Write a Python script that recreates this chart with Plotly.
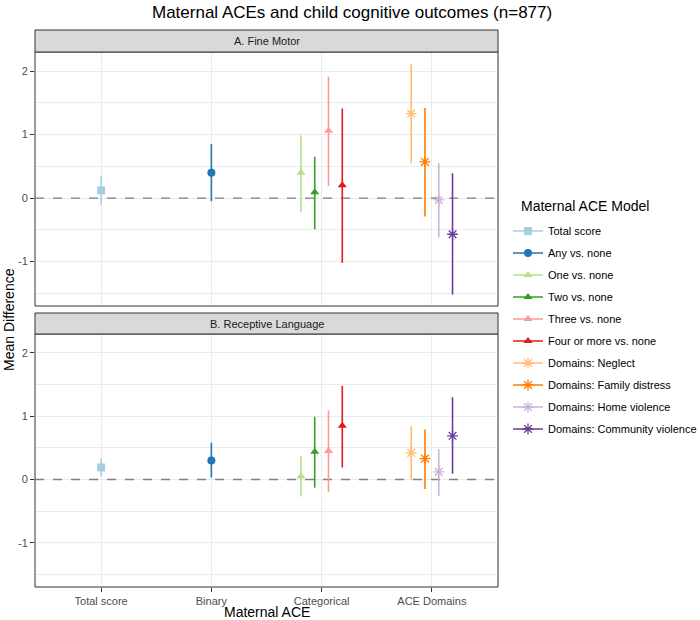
import plotly.graph_objects as go

# categories on the x axis and the models plotted within them
categories = ["Total score", "Binary", "Categorical", "ACE Domains"]
models = [
    "Total score", "Any vs. none", "One vs. none", "Two vs. none",
    "Three vs. none", "Four or more vs. none", "Domains: Neglect",
    "Domains: Family distress", "Domains: Home violence",
    "Domains: Community violence",
]
model_cat = [
    "Total score", "Binary", "Categorical", "Categorical", "Categorical",
    "Categorical", "ACE Domains", "ACE Domains", "ACE Domains", "ACE Domains",
]

# A. Fine Motor
fine_est = [0.12, 0.40, 0.40, 0.09, 1.06, 0.20, 1.33, 0.57, -0.03, -0.57]
fine_lo = [-0.11, -0.05, -0.22, -0.49, 0.19, -1.02, 0.55, -0.29, -0.62, -1.52]
fine_hi = [0.35, 0.85, 0.99, 0.65, 1.91, 1.41, 2.11, 1.42, 0.55, 0.39]

# B. Receptive Language
lang_est = [0.19, 0.30, 0.05, 0.44, 0.45, 0.85, 0.42, 0.33, 0.12, 0.69]
lang_lo = [0.05, 0.03, -0.27, -0.13, -0.20, 0.19, -0.01, -0.15, -0.26, 0.09]
lang_hi = [0.33, 0.58, 0.37, 0.99, 1.09, 1.48, 0.84, 0.79, 0.48, 1.30]

colors = ["#A6CEE3", "#1F78B4", "#B2DF8A", "#33A02C", "#FB9A99",
          "#E31A1C", "#FDBF6F", "#FF7F00", "#CAB2D6", "#6A3D9A"]
symbols = ["square", "circle", "triangle-up", "triangle-up", "triangle-up",
           "triangle-up", "asterisk-open", "asterisk-open", "asterisk-open",
           "asterisk-open"]

DODGE = 0.5
XRANGE = [-0.6, 3.6]
FONT = "Liberation Sans, Arial, sans-serif"


def dodge_x(i):
    cat = model_cat[i]
    members = [k for k, c in enumerate(model_cat) if c == cat]
    n = len(members)
    pos = members.index(i)
    return categories.index(cat) + (pos - (n - 1) / 2) * DODGE / n


fig = go.Figure()
panels = [("x2", "y2", fine_est, fine_lo, fine_hi, True),
          ("x", "y", lang_est, lang_lo, lang_hi, False)]
for xa, ya, est, lo, hi, show in panels:
    # dashed reference line at zero, under the estimates
    fig.add_trace(go.Scatter(
        x=XRANGE, y=[0, 0], xaxis=xa, yaxis=ya, mode="lines",
        line=dict(color="#7F7F7F", width=1.3, dash="dash"),
        showlegend=False, hoverinfo="skip",
    ))
    for i, name in enumerate(models):
        star = symbols[i].startswith("asterisk")
        fig.add_trace(go.Scatter(
            x=[dodge_x(i)], y=[est[i]], xaxis=xa, yaxis=ya,
            mode="lines+markers", name=name, legendgroup=name,
            showlegend=show,
            line=dict(color=colors[i], width=1.6),
            marker=dict(symbol=symbols[i], color=colors[i],
                        size=9 if star else 8,
                        line=dict(color=colors[i], width=1.3 if star else 0)),
            error_y=dict(type="data", symmetric=False,
                         array=[hi[i] - est[i]], arrayminus=[est[i] - lo[i]],
                         color=colors[i], thickness=1.6, width=0),
            hoverinfo="skip",
        ))

L, R, T, B = 35, 202, 30, 33
W, H = 700, 620
pw = W - L - R
ph = H - T - B


def py(pix):
    return (H - B - pix) / ph


def px(pix):
    return (pix - L) / pw


top_dom = [py(306), py(52)]
bot_dom = [py(587), py(334)]
yrange = [-1.7, 2.3]

axis_common = dict(range=XRANGE, tickvals=list(range(4)),
                   showgrid=True, gridcolor="#EBEBEB", gridwidth=1.1,
                   zeroline=False, showline=False, automargin=False)
yaxis_common = dict(range=yrange, tickvals=[-1, 0, 1, 2],
                    ticktext=["-1", "0", "1", "2"],
                    showgrid=True, gridcolor="#EBEBEB", gridwidth=1.1,
                    minor=dict(dtick=0.5, tick0=0, showgrid=True,
                               gridcolor="#EBEBEB", gridwidth=0.6),
                    zeroline=False, showline=False, automargin=False,
                    ticks="outside", ticklen=4, tickcolor="#333333",
                    tickfont=dict(family=FONT, size=11, color="#4D4D4D"))

fig.update_layout(
    width=W, height=H,
    margin=dict(l=L, r=R, t=T, b=B, autoexpand=False),
    paper_bgcolor="white", plot_bgcolor="white",
    font=dict(family=FONT, color="#1A1A1A"),
    title=dict(text="Maternal ACEs and child cognitive outcomes (n=877)",
               x=0.503, xanchor="center", xref="container",
               y=1 - 12 / H, yanchor="middle", yref="container",
               font=dict(family=FONT, size=17, color="black")),
    xaxis=dict(**axis_common, anchor="y", ticktext=categories,
               ticks="outside", ticklen=4, tickcolor="#333333",
               tickfont=dict(family=FONT, size=11, color="#4D4D4D")),
    xaxis2=dict(**axis_common, anchor="y2", matches="x",
                showticklabels=False, ticks=""),
    yaxis=dict(**yaxis_common, domain=bot_dom, anchor="x"),
    yaxis2=dict(**yaxis_common, domain=top_dom, anchor="x2"),
    legend=dict(
        font=dict(family=FONT, size=11, color="black"),
        x=px(508), xanchor="left",
        y=py(216.5), yanchor="top",
        itemwidth=30, tracegroupgap=3, bgcolor="rgba(0,0,0,0)",
    ),
)

# legend title
fig.add_annotation(text="Maternal ACE Model", xref="paper", yref="paper",
                   x=px(519), y=py(206), xanchor="left", yanchor="middle",
                   showarrow=False,
                   font=dict(family=FONT, size=14, color="black"))

# panel borders
for xa, ya in [("x", "y"), ("x2", "y2")]:
    fig.add_shape(type="rect", xref=f"{xa} domain", yref=f"{ya} domain",
                  x0=0, x1=1, y0=0, y1=1, layer="above",
                  line=dict(color="#333333", width=1))

# facet strips
strips = [("A. Fine Motor", py(52), py(30)),
          ("B. Receptive Language", py(334), py(313))]
for label, y0, y1 in strips:
    fig.add_shape(type="rect", xref="paper", yref="paper",
                  x0=0, x1=1, y0=y0, y1=y1, layer="above",
                  fillcolor="#D9D9D9", line=dict(color="#333333", width=1))
    fig.add_annotation(text=label, xref="paper", yref="paper",
                       x=0.5, y=(y0 + y1) / 2, xanchor="center",
                       yanchor="middle", showarrow=False,
                       font=dict(family=FONT, size=11, color="#1A1A1A"))

# axis titles
fig.add_annotation(text="Maternal ACE", xref="paper", yref="paper",
                   x=0.5, y=py(612), xanchor="center", yanchor="middle",
                   showarrow=False,
                   font=dict(family=FONT, size=14, color="black"))
fig.add_annotation(text="Mean Difference", xref="paper", yref="paper",
                   x=px(9), y=py(320), xanchor="center", yanchor="middle",
                   textangle=-90, showarrow=False,
                   font=dict(family=FONT, size=14, color="black"))

fig.write_html("out.html", config={"displayModeBar": False},
               post_script="document.body.style.margin='0';")
